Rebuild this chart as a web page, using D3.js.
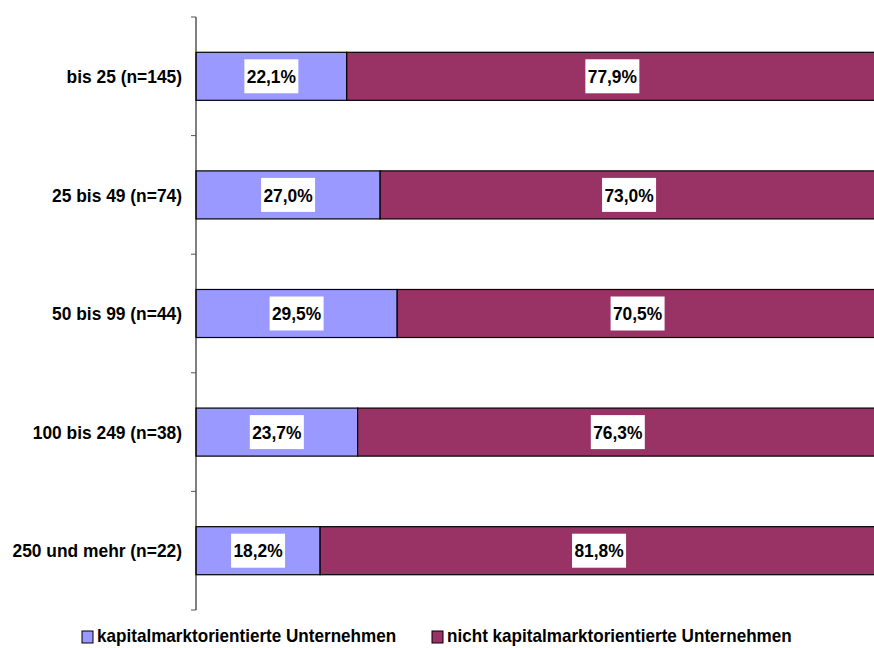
<!DOCTYPE html>
<html>
<head>
<meta charset="utf-8">
<script src="https://cdn.jsdelivr.net/npm/d3@7"></script>
<style>
  body { margin: 0; background: #fff; }
  text { font-family: "Liberation Sans", Arial, sans-serif; font-weight: bold; fill: #000; }
</style>
</head>
<body>
<svg id="chart" width="874" height="648"></svg>
<script>
// Daten
const categories = ["bis 25 (n=145)", "25 bis 49 (n=74)", "50 bis 99 (n=44)", "100 bis 249 (n=38)", "250 und mehr (n=22)"];
const seriesNames = ["kapitalmarktorientierte Unternehmen", "nicht kapitalmarktorientierte Unternehmen"];
const kapital = [22.1, 27.0, 29.5, 23.7, 18.2];
const nichtKapital = [77.9, 73.0, 70.5, 76.3, 81.8];
const colors = ["#9999ff", "#993366"];

const svg = d3.select("#chart");
const fontSize = "18.5px";
const squeeze = 0.94; // Schrift etwas schmaler wie im Original

// Skalen
const x = d3.scaleLinear().domain([0, 100]).range([196, 878]);
const y = d3.scaleBand().domain(categories).range([17, 610]).paddingInner(0.595).paddingOuter(0.2975);

const rows = categories.map((c, i) => {
  const a = kapital[i], b = nichtKapital[i];
  return { cat: c, segs: [{ s: 0, x0: 0, x1: a, v: a }, { s: 1, x0: a, x1: a + b, v: b }] };
});

// Balken
const rowG = svg.selectAll("g.row").data(rows).enter().append("g").attr("class", "row");

rowG.selectAll("rect.seg")
  .data((d) => d.segs.map((s) => ({ ...s, cat: d.cat })))
  .enter()
  .append("rect")
  .attr("class", "seg")
  .attr("x", (d) => x(d.x0))
  .attr("y", (d) => y(d.cat))
  .attr("width", (d) => x(d.x1) - x(d.x0))
  .attr("height", y.bandwidth())
  .attr("fill", (d) => colors[d.s])
  .attr("stroke", "#000")
  .attr("stroke-width", 1.2);

// Wertbeschriftungen mit weißem Hintergrund
const lbl = rowG.selectAll("g.lbl")
  .data((d) => d.segs.map((s) => ({ ...s, cat: d.cat })))
  .enter()
  .append("g")
  .attr("class", "lbl")
  .attr("transform", (d) => `translate(${(x(d.x0) + x(Math.min(d.x1, 100))) / 2},${y(d.cat) + y.bandwidth() / 2})`);

lbl.append("rect")
  .attr("x", -27)
  .attr("y", -17)
  .attr("width", 54)
  .attr("height", 34)
  .attr("fill", "#fff");

lbl.append("text")
  .attr("text-anchor", "middle")
  .attr("dy", "0.36em")
  .attr("transform", `scale(${squeeze},1)`)
  .style("font-size", fontSize)
  .text((d) => d.v.toFixed(1).replace(".", ",") + "%");

// Achse
const axis = svg.append("g");
axis.append("line")
  .attr("x1", 196).attr("x2", 196)
  .attr("y1", 17).attr("y2", 610)
  .attr("stroke", "#000");

const edges = d3.range(categories.length + 1).map((i) => 17 + i * y.step());
axis.selectAll("line.tick")
  .data(edges)
  .enter()
  .append("line")
  .attr("x1", 191).attr("x2", 196)
  .attr("y1", (d) => d).attr("y2", (d) => d)
  .attr("stroke", "#555");

axis.selectAll("text.cat")
  .data(categories)
  .enter()
  .append("text")
  .attr("transform", (d) => `translate(182,${y(d) + y.bandwidth() / 2}) scale(${squeeze},1)`)
  .attr("dy", "0.36em")
  .attr("text-anchor", "end")
  .style("font-size", fontSize)
  .text((d) => d);

// Legende
const legend = svg.append("g").attr("transform", "translate(0,636)");
const legendX = [82, 432];
seriesNames.forEach((name, i) => {
  const g = legend.append("g").attr("transform", `translate(${legendX[i]},0)`);
  g.append("rect")
    .attr("x", 0).attr("y", -5)
    .attr("width", 11).attr("height", 12)
    .attr("fill", colors[i])
    .attr("stroke", "#000")
    .attr("stroke-width", 1);
  g.append("text")
    .attr("transform", `translate(15,0) scale(0.95,1)`)
    .attr("dy", "0.36em")
    .style("font-size", "18px")
    .text(name);
});
</script>
</body>
</html>
